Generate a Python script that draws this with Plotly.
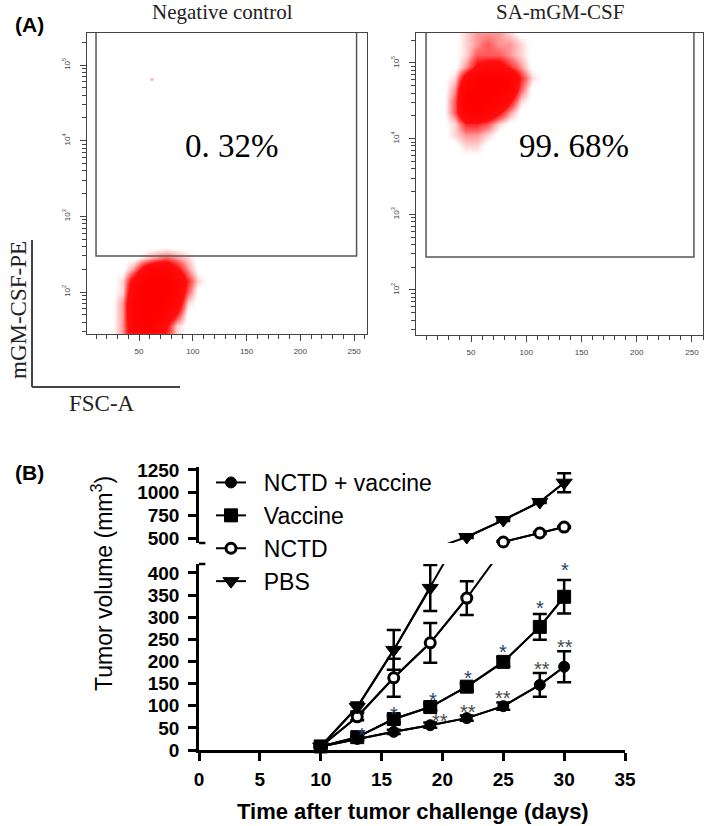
import math
import plotly.graph_objects as go

# ---------------- Panel A data (flow cytometry, density) ----------------
neg_fsc = [25, 35, 45, 55, 65, 75, 85, 95, 105, 115]
neg_logpe = [1.4, 1.55, 1.7, 1.85, 2.0, 2.15, 2.3, 2.45, 2.6]
neg_density = [
    [0, 2, 7, 9, 8, 4, 1, 0, 0, 0],
    [0, 2, 8, 10, 9, 5, 1, 0, 0, 0],
    [0, 2, 9, 10, 10, 8, 4, 0, 0, 0],
    [0, 2, 9, 10, 10, 10, 7, 1, 0, 0],
    [0, 1, 8, 10, 10, 10, 8, 3, 0, 0],
    [0, 1, 6, 10, 10, 10, 8, 4, 1, 0],
    [0, 0, 2, 6, 8, 8, 5, 2, 0, 0],
    [0, 0, 0, 1, 2, 3, 2, 1, 0, 0],
    [0, 0, 0, 0, 0, 0, 0, 0, 0, 0],
]
neg_outlier_fsc = [62]
neg_outlier_logpe = [4.81]

pos_fsc = [25, 35, 45, 55, 65, 75, 85, 95, 105, 115]
pos_logpe = [3.75, 3.9, 4.05, 4.2, 4.35, 4.5, 4.65, 4.8, 4.95, 5.1, 5.25, 5.4, 5.55]
pos_density = [
    [0, 0, 0, 0, 0, 0, 0, 0, 0, 0],
    [0, 0, 1, 1, 0, 0, 0, 0, 0, 0],
    [0, 1, 2, 2, 1, 0, 0, 0, 0, 0],
    [0, 1, 4, 4, 3, 1, 0, 0, 0, 0],
    [0, 3, 9, 10, 8, 5, 2, 0, 0, 0],
    [0, 3, 10, 10, 10, 9, 5, 1, 0, 0],
    [0, 2, 9, 10, 10, 10, 8, 3, 0, 0],
    [0, 1, 6, 10, 10, 10, 9, 4, 1, 0],
    [0, 0, 2, 5, 6, 6, 4, 2, 0, 0],
    [0, 0, 1, 3, 3, 3, 2, 1, 0, 0],
    [0, 0, 1, 2, 3, 2, 2, 1, 0, 0],
    [0, 0, 1, 2, 2, 2, 1, 0, 0, 0],
    [0, 0, 1, 2, 2, 2, 1, 0, 0, 0],
]

gate_neg = [10, 252.3, 2.476]   # FSC min, FSC max, log10(PE) min
gate_pos = [9.3, 251.8, 2.436]
pct_labels = ["0. 32%", "99. 68%"]
panel_titles = ["Negative control", "SA-mGM-CSF"]

fsc_ticks = [50, 100, 150, 200, 250]
pe_decades = [2, 3, 4, 5]

# ---------------- Panel B data (tumor volume) ----------------
days = [10, 13, 16, 19, 22, 25, 28, 30]
series_names = ["NCTD + vaccine", "Vaccine", "NCTD", "PBS"]
nctd_vac = [8, 25, 41, 56, 72, 99, 147, 188]
nctd_vac_err = [2, 3, 5, 6, 6, 8, 27, 35]
vaccine = [8, 29, 70, 97, 143, 199, 278, 346]
vaccine_err = [2, 4, 8, 8, 8, 10, 29, 38]
nctd = [8, 75, 163, 242, 343, 456, 555, 621]
nctd_err = [2, 8, 43, 45, 38, 10, 10, 10]
pbs = [8, 97, 226, 366, 511, 698, 897, 1110]
pbs_err = [2, 10, 45, 52, 10, 10, 10, 105]

star1_days = [13.4, 16.0, 19.2, 22.1, 25.0, 28.0, 30.1]
star1_vals = [45, 92, 124, 174, 233, 333, 418]
star2_days = [19.8, 22.1, 25.0, 28.2, 30.1]
star2_vals = [77, 97, 129, 195, 244]

lower_ticks = [0, 50, 100, 150, 200, 250, 300, 350, 400]
upper_ticks = [500, 750, 1000, 1250]
x_ticks = [0, 5, 10, 15, 20, 25, 30, 35]

W, H = 709, 826


def fx(px):
    return px / W


def fy(py):
    return 1 - py / H


fig = go.Figure()

red_scale = [
    [0.0, "rgba(255,255,255,0)"],
    [0.08, "rgba(255,40,40,0.15)"],
    [0.25, "rgba(255,0,0,0.55)"],
    [0.45, "rgba(255,0,0,0.95)"],
    [1.0, "rgba(255,0,0,1)"],
]

fig.add_trace(go.Heatmap(x=neg_fsc, y=neg_logpe, z=neg_density, zmin=0, zmax=10,
                         colorscale=red_scale, zsmooth="best", showscale=False,
                         hoverinfo="skip", xaxis="x", yaxis="y"))
fig.add_trace(go.Scatter(x=neg_outlier_fsc, y=neg_outlier_logpe, mode="markers",
                         marker=dict(color="rgba(255,0,0,0.35)", size=3),
                         showlegend=False, hoverinfo="skip", xaxis="x", yaxis="y"))
fig.add_trace(go.Heatmap(x=pos_fsc, y=pos_logpe, z=pos_density, zmin=0, zmax=10,
                         colorscale=red_scale, zsmooth="best", showscale=False,
                         hoverinfo="skip", xaxis="x2", yaxis="y2"))

# ---------------- Panel B traces ----------------
LOWER_MAX = 420
UPPER_MIN = 445
styles = [
    dict(symbol="circle", size=11, color="black", line=dict(color="black", width=1)),
    dict(symbol="square", size=13, color="black", line=dict(color="black", width=1)),
    dict(symbol="circle", size=10, color="white", line=dict(color="black", width=3)),
    dict(symbol="triangle-down", size=14, color="black", line=dict(color="black", width=1)),
]
all_series = [(nctd_vac, nctd_vac_err), (vaccine, vaccine_err), (nctd, nctd_err), (pbs, pbs_err)]

for i, (vals, errs) in enumerate(all_series):
    name = series_names[i]
    for seg, ya in (("low", "y3"), ("up", "y4")):
        fig.add_trace(go.Scatter(x=days, y=vals, mode="lines", line=dict(color="black", width=2),
                                 xaxis="x3", yaxis=ya, showlegend=False, hoverinfo="skip",
                                 legendgroup=name))
        if seg == "low":
            idx = [k for k, v in enumerate(vals) if v <= LOWER_MAX]
        else:
            idx = [k for k, v in enumerate(vals) if v >= UPPER_MIN]
        if not idx:
            continue
        fig.add_trace(go.Scatter(
            x=[days[k] for k in idx], y=[vals[k] for k in idx],
            mode="lines+markers", line=dict(color="black", width=2),
            marker=styles[i],
            error_y=dict(type="data", array=[errs[k] for k in idx], color="black",
                         thickness=2.5, width=7),
            cliponaxis=False, xaxis="x3", yaxis=ya, name="\u00a0\u00a0" + name,
            legendgroup=name, showlegend=(seg == "low")))

# ---------------- Layout ----------------
flow_tick_font = dict(family="Arial", size=8, color="#444")
minor_log = [math.log10(k * 10 ** n) for n in range(1, 6) for k in range(2, 10)]


def flow_xaxis(dom, rng, anchor):
    return dict(domain=dom, range=rng, anchor=anchor, showline=True, linecolor="#444",
                linewidth=1.3, mirror=True, ticks="outside", ticklen=6, tickwidth=1.2,
                tickcolor="#444", tickvals=fsc_ticks, tickfont=flow_tick_font,
                minor=dict(dtick=10, tick0=0, ticks="outside", ticklen=4, tickwidth=1,
                           tickcolor="#444"),
                showgrid=False, zeroline=False, ticklabelstandoff=3)


def flow_yaxis(dom, rng, anchor):
    return dict(domain=dom, range=rng, anchor=anchor, showline=True, linecolor="#444",
                linewidth=1.3, mirror=True, ticks="outside", ticklen=6, tickwidth=1.2,
                tickcolor="#444", tickvals=pe_decades,
                ticktext=["10<sup>%d</sup>" % d for d in pe_decades],
                tickangle=-90, tickfont=flow_tick_font,
                minor=dict(tickmode="array", tickvals=minor_log, ticks="outside", ticklen=4,
                           tickwidth=1, tickcolor="#444"),
                showgrid=False, zeroline=False, ticklabelstandoff=7)


bold_tick = dict(family="Arial", size=19, color="black", weight="bold")

layout = dict(
    width=W, height=H, margin=dict(l=0, r=0, t=0, b=0),
    paper_bgcolor="white", plot_bgcolor="white", template="none",
    xaxis=flow_xaxis([fx(87), fx(367)], [1.6, 262], "y"),
    yaxis=flow_yaxis([fy(334), fy(33)], [1.445, 5.423], "x"),
    xaxis2=flow_xaxis([fx(416), fx(703)], [0.2, 260], "y2"),
    yaxis2=flow_yaxis([fy(335), fy(33)], [1.405, 5.396], "x2"),
    xaxis3=dict(domain=[fx(199), fx(625)], range=[0, 35], anchor="y3", tickvals=x_ticks,
                showline=True, linecolor="black", linewidth=2.5, ticks="outside", ticklen=8,
                tickwidth=2.5, tickcolor="black", tickfont=bold_tick, showgrid=False,
                zeroline=False, ticklabelstandoff=2),
    yaxis3=dict(domain=[fy(750), fy(564)], range=[0, LOWER_MAX], anchor="x3",
                tickvals=lower_ticks, showline=True, linecolor="black", linewidth=2.5,
                ticks="outside", ticklen=8, tickwidth=2.5, tickcolor="black",
                tickfont=bold_tick, showgrid=False, zeroline=False, ticklabelstandoff=5),
    yaxis4=dict(domain=[fy(543), fy(467)], range=[UPPER_MIN, 1283], anchor="x3",
                tickvals=upper_ticks, showline=True, linecolor="black", linewidth=2.5,
                ticks="outside", ticklen=8, tickwidth=2.5, tickcolor="black",
                tickfont=bold_tick, showgrid=False, zeroline=False, ticklabelstandoff=5),
    showlegend=True,
    legend=dict(x=fx(211), y=fy(461), xanchor="left", yanchor="top",
                font=dict(family="Arial", size=23, color="black"),
                bgcolor="rgba(0,0,0,0)", borderwidth=0, tracegroupgap=0,
                itemsizing="trace"),
)
fig.update_layout(**layout)

shapes = []
for (g, xr, yr) in ((gate_neg, "x", "y"), (gate_pos, "x2", "y2")):
    shapes.append(dict(type="rect", xref=xr, yref=yr, x0=g[0], x1=g[1], y0=g[2], y1=6,
                       line=dict(color="#555", width=1.5), layer="above"))
shapes.append(dict(type="line", xref="paper", yref="paper", x0=fx(32), x1=fx(32),
                   y0=fy(240), y1=fy(387), line=dict(color="#444", width=2)))
shapes.append(dict(type="line", xref="paper", yref="paper", x0=fx(32), x1=fx(180),
                   y0=fy(387), y1=fy(387), line=dict(color="#444", width=2)))
shapes.append(dict(type="line", xref="x3 domain", yref="y4 domain", x0=0, x1=0.015,
                   y0=0, y1=0, line=dict(color="black", width=2.5)))
shapes.append(dict(type="line", xref="x3 domain", yref="y3 domain", x0=0, x1=0.015,
                   y0=1, y1=1, line=dict(color="black", width=2.5)))
fig.update_layout(shapes=shapes)

serif = "Liberation Serif, Times New Roman, serif"


def text_ann(text, px, py, size, family="Arial", color="black", angle=0):
    return dict(text=text, x=fx(px), y=fy(py), xref="paper", yref="paper",
                xanchor="center", yanchor="middle", showarrow=False, textangle=angle,
                font=dict(family=family, size=size, color=color))


ann = [
    text_ann("<b>(A)</b>", 29, 25, 21),
    text_ann("<b>(B)</b>", 29, 472, 21),
    text_ann(panel_titles[0], 222, 12, 21, serif, "#222"),
    text_ann(panel_titles[1], 560, 12, 21, serif, "#222"),
    text_ann(pct_labels[0], 232, 146, 33, serif),
    text_ann(pct_labels[1], 574, 146, 33, serif),
    text_ann("mGM-CSF-PE", 19, 310, 23, serif, "#222", -90),
    text_ann("FSC-A", 102, 403, 23, serif, "#222"),
    text_ann("<b>Time after tumor challenge (days)</b>", 413, 811, 22),
    text_ann("Tumor volume (mm<sup>3</sup>)", 102, 584, 23, angle=-90),
]
for d, v in zip(star1_days, star1_vals):
    ann.append(dict(text="*", x=d, y=v, xref="x3", yref="y3", showarrow=False, yshift=-5,
                    xanchor="center", yanchor="middle",
                    font=dict(family="Arial", size=20, color="#2a3f6f")))
for d, v in zip(star2_days, star2_vals):
    ann.append(dict(text="**", x=d, y=v, xref="x3", yref="y3", showarrow=False, yshift=-5,
                    xanchor="center", yanchor="middle",
                    font=dict(family="Arial", size=20, color="#4a4a4a")))
fig.update_layout(annotations=ann)

fig.write_html("out.html", config={"displayModeBar": False},
               post_script="document.body.style.margin='0';document.body.style.padding='0';")
